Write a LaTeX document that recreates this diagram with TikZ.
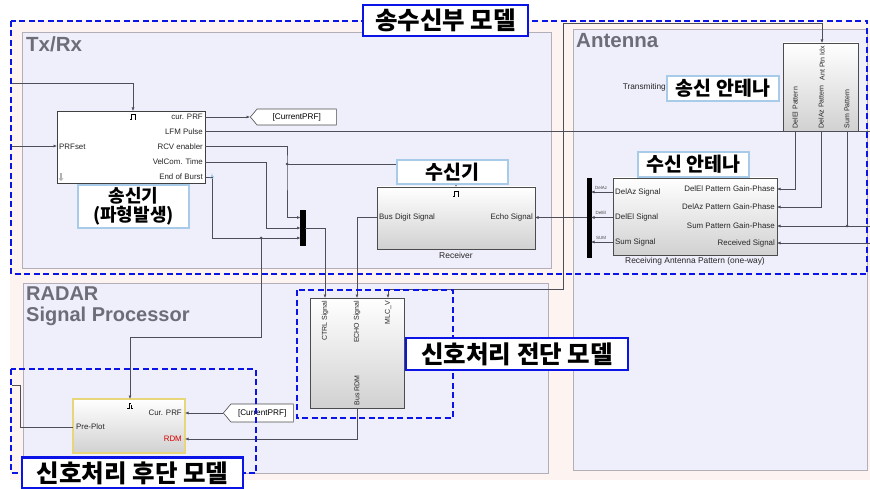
\documentclass[tikz,border=0pt]{standalone}
\usepackage{fontspec}
\setmainfont{Liberation Sans}
\newfontfamily\kr{Noto Sans CJK KR}
\usetikzlibrary{arrows.meta,shapes.geometric,shapes.symbols}
\definecolor{pinkbg}{HTML}{FDF4F1}
\definecolor{lav}{HTML}{EFEEFB}
\definecolor{pborder}{HTML}{B4AEB8}
\definecolor{wire}{HTML}{4E4E58}
\definecolor{dblue}{HTML}{0A14E6}
\definecolor{lblue}{HTML}{A9CBEA}
\definecolor{ttl}{HTML}{6D6D78}
\definecolor{ylw}{HTML}{E8D67A}
\begin{document}
\begin{tikzpicture}[x=1pt,y=-1pt,
  panel/.style={fill=lav,draw=pborder,line width=0.8pt},
  blkw/.style={draw=black!75,line width=0.8pt,fill=white,inner sep=0pt},
  blkg/.style={draw=black!70,line width=0.8pt,top color=white,bottom color=black!18,inner sep=0pt},
  wirel/.style={draw=wire,line width=0.6pt},
  sig/.style={wirel,-{Latex[length=3.5pt,width=3pt]}},
  port/.style={font=\fontsize{7.9}{8}\selectfont,inner sep=1pt,text=black!85},
  rport/.style={font=\fontsize{7}{7}\selectfont,inner sep=1pt,text=black!85,rotate=90},
  tiny/.style={font=\fontsize{4.5}{5}\selectfont,inner sep=0pt,text=black!70},
  ttlf/.style={font=\fontsize{20.5}{21}\selectfont\bfseries,text=ttl,inner sep=0pt},
  dbox/.style={draw=dblue,line width=2pt,dash pattern=on 6pt off 3.5pt},
  bigl/.style={draw=dblue,line width=2.2pt,fill=white,font=\kr\bfseries\fontsize{24.5}{26}\selectfont,inner sep=0pt},
  subl/.style={draw=lblue,line width=1.6pt,fill=white,font=\kr\bfseries\fontsize{19.5}{20}\selectfont,inner sep=0pt,align=center},
  jdot/.style={circle,fill=wire,inner sep=0pt,minimum size=3pt},
  bar/.style={fill=black,draw=black,inner sep=0pt},
  tag/.style={draw=black!70,fill=white,signal,signal to=west,signal pointer angle=100,font=\fontsize{8.2}{9}\selectfont,inner sep=1.5pt,line width=0.6pt}
]
\useasboundingbox (0,0) rectangle (870,489);
\fill[white] (0,0) rectangle (870,489);
\fill[pinkbg] (10,20) rectangle (870,480);
% panels
\draw[panel] (22,32) rectangle (551,268);
\draw[panel] (573,29) rectangle (867,470);
\draw[panel] (23,283) rectangle (548,473);
\node[ttlf,anchor=west] (tTx) at (26,44) {Tx/Rx};
\node[ttlf,anchor=west] (tAnt) at (576,41) {Antenna};
\node[ttlf,anchor=north west,align=left,font=\fontsize{20}{21}\selectfont\bfseries] (tR) at (26,287) {RADAR\\Signal Processor};

% blocks
\node[blkw, minimum width=148pt, minimum height=72pt] (tx) at (131,147) {};
\node[blkg, minimum width=158pt, minimum height=62pt] (rx) at (456,218) {};
\node[blkg, minimum width=164pt, minimum height=77pt] (rxa) at (695,216.5) {};
\node[blkg, minimum width=75pt, minimum height=88pt] (txa) at (820.5,87) {};
\node[blkg, minimum width=94pt, minimum height=110pt] (fb) at (357,353) {};
\node[blkg, draw=ylw, line width=1.3pt, minimum width=112pt, minimum height=54pt] (pb) at (129,426) {};
\node[bar, minimum width=4.5pt, minimum height=35pt] (m1) at (302.75,227.5) {};
\node[bar, minimum width=4pt, minimum height=79pt] (m2) at (589,217.5) {};
\node[tag, anchor=west, minimum width=86pt, minimum height=16pt] (t1) at (250,117) {[CurrentPRF]};
\node[tag, anchor=west, minimum width=70pt, minimum height=18pt] (t2) at (223,413) {[CurrentPRF]};

% port coordinates
\coordinate (inA) at (11,83);
\coordinate (inB) at (11,146);
\coordinate (txT) at (133,111);
\coordinate (txI) at (57,146);
\coordinate (txO1) at (205,117);
\coordinate (txO2) at (205,131.5);
\coordinate (txO3) at (205,146.5);
\coordinate (txO4) at (205,162);
\coordinate (txO5) at (205,177);
\coordinate (lfmEnd) at (870,131.5);
\coordinate (j1) at (287,164);
\coordinate (b4) at (266,228);
\coordinate (b5) at (212,238);
\coordinate (j2) at (261,238);
\coordinate (b6) at (130,337);
\coordinate (m1i1) at (300.5,217.5);
\coordinate (m1i2) at (300.5,228);
\coordinate (m1i3) at (300.5,238);
\coordinate (m1o) at (305,228);
\coordinate (rxT) at (456,187);
\coordinate (rxB) at (377,217.5);
\coordinate (rxE) at (535,217.5);
\coordinate (m2o) at (587,217.5);
\coordinate (m2i1) at (591,192);
\coordinate (m2i2) at (591,217.5);
\coordinate (m2i3) at (591,242);
\coordinate (rxaL1) at (613,192);
\coordinate (rxaL2) at (613,217.5);
\coordinate (rxaL3) at (613,242);
\coordinate (rxaR1) at (777,189);
\coordinate (rxaR2) at (777,207);
\coordinate (rxaR3) at (777,226);
\coordinate (rxaR4) at (777,243);
\coordinate (txaT) at (822,43);
\coordinate (txaB1) at (795,131);
\coordinate (txaB2) at (821,131);
\coordinate (txaB3) at (847,131);
\coordinate (j3) at (847,226);
\coordinate (sumEnd) at (870,226);
\coordinate (rsIn) at (870,243);
\coordinate (mlcSrc) at (822,23);
\coordinate (b7) at (563,289);
\coordinate (fbC) at (325,298);
\coordinate (fbE) at (357,298);
\coordinate (fbM) at (388,298);
\coordinate (fbR) at (357,408);
\coordinate (pbT) at (130,399);
\coordinate (pbC) at (185,413);
\coordinate (pbR) at (185,439);
\coordinate (pbP) at (73,427);
\coordinate (b8) at (20,385);
\coordinate (preEnd) at (12,385);

% wires
\draw[sig] (inA) -| (txT);
\draw[sig] (inB) -- (txI);
\draw[sig] (txO1) -- (t1.west);
\draw[wirel] (txO2) -- (lfmEnd);
\draw[sig] (txO3) -| (j1) |- (m1i1);
\draw[sig] (j1) -| (rxT);
\draw[sig] (txO4) -| (b4) -- (m1i2);
\draw[sig] (txO5) -| (b5) -- (m1i3);
\draw[sig] (j2) |- (b6) -- (pbT);
\draw[sig] (m1o) -| (fbC);
\draw[sig] (rxB) -| (fbE);
\draw[sig] (m2o) -- (rxE);
\draw[sig] (rxaL1) -- (m2i1);
\draw[sig] (rxaL2) -- (m2i2);
\draw[sig] (rxaL3) -- (m2i3);
\draw[sig] (txaB1) |- (rxaR1);
\draw[sig] (txaB2) |- (rxaR2);
\draw[sig] (txaB3) |- (rxaR3);
\draw[wirel] (j3) -- (sumEnd);
\draw[sig] (rsIn) -- (rxaR4);
\draw[sig] (mlcSrc) -- (txaT);
\draw[sig] (mlcSrc) -| (b7) -| (fbM);
\draw[sig] (fbR) |- (pbR);
\draw[sig] (t2.west) -- (pbC);
\draw[wirel] (pbP) -| (b8) -- (preEnd);
\node[jdot] at (j1) {};
\node[jdot] at (j2) {};
\node[jdot] at (j3) {};

% port labels: transmitter
\node[port,anchor=west] at (58,146.5) {PRFset};
\node[port,anchor=east] at (204,117) {cur. PRF};
\node[port,anchor=east] at (204,131.5) {LFM Pulse};
\node[port,anchor=east] at (204,146.5) {RCV enabler};
\node[port,anchor=east] at (204,162) {VelCom. Time};
\node[port,anchor=east] at (204,177) {End of Burst};
\draw[line width=0.6pt] (130,119) -- (131,119) -- (131,114) -- (135,114) -- (135,119) -- (136,119);
\draw[black!30,line width=1.3pt,-{Triangle[length=2.5pt,width=4.5pt]}] (61,173.5) -- (61,181);
\foreach \r in {1.5,3,4.5} \draw[lblue,line width=0.5pt] (212,174) ++(60:\r) arc (60:120:\r);
\fill[lblue] (212,174) circle (0.6);
% receiver
\node[port,anchor=west] at (378,217.5) {Bus Digit Signal};
\node[port,anchor=east] at (534,217.5) {Echo Signal};
\node[port,font=\fontsize{8.5}{9}\selectfont] at (456,255.5) {Receiver};
\draw[line width=0.6pt] (453,196) -- (454,196) -- (454,191) -- (458,191) -- (458,196) -- (459,196);
% rx antenna
\node[port,anchor=west] at (614,192) {DelAz Signal};
\node[port,anchor=west] at (614,217.5) {DelEl Signal};
\node[port,anchor=west] at (614,242) {Sum Signal};
\node[port,anchor=east] at (776,189) {DelEl Pattern Gain-Phase};
\node[port,anchor=east] at (776,207) {DelAz Pattern Gain-Phase};
\node[port,anchor=east] at (776,226) {Sum Pattern Gain-Phase};
\node[port,anchor=east] at (776,243) {Received Signal};
\node[port,font=\fontsize{8.4}{9}\selectfont] at (695,261) {Receiving Antenna Pattern (one-way)};
\node[tiny] at (601,188) {DelAz};
\node[tiny] at (601,213) {DelEl};
\node[tiny] at (601,238) {SUM};
% tx antenna
\node[rport,anchor=east] at (822,45) {Ant Ptn Idx};
\node[rport,anchor=west] at (795,129.5) {DelEl Pattern};
\node[rport,anchor=west] at (821,129.5) {DelAz Pattern};
\node[rport,anchor=west] at (847,129.5) {Sum Pattern};
\node[port,anchor=east,font=\fontsize{8.3}{9}\selectfont] at (667,87) {Transmiting};
% front block
\node[rport,anchor=east] at (325,300) {CTRL Signal};
\node[rport,anchor=east] at (357,300) {ECHO Signal};
\node[rport,anchor=east] at (388,300) {MLC\_V};
\node[rport,anchor=west] at (357,406.5) {Bus RDM};
% post block
\node[port,anchor=east] at (183,413) {Cur. PRF};
\node[port,anchor=east,text=red!85!black] at (183,439) {RDM};
\node[port,anchor=west] at (75,427) {Pre-Plot};
\draw[line width=0.5pt] (127,408) -- (129,408) -- (129,403) -- (131,403) (131,405) -- (131,408) -- (133,408);

% dashed model boxes
\draw[dbox] (11,21) rectangle (867,274);
\draw[dbox] (297,290) rectangle (453,418);
\draw[dbox] (11,369) rectangle (256,473);

% sub labels
\node[subl, font=\kr\bfseries\fontsize{18}{19}\selectfont, minimum width=111pt, minimum height=43pt] (s1) at (133.5,206.5) {송신기\\(파형발생)};
\node[subl, minimum width=111pt, minimum height=24pt] (s2) at (452.5,172) {수신기};
\node[subl, minimum width=112pt, minimum height=25pt] (s3) at (723,88.5) {송신 안테나};
\node[subl, minimum width=111pt, minimum height=25pt] (s4) at (693.5,164.5) {수신 안테나};

% model labels
\node[bigl, minimum width=165pt, minimum height=31pt] (L1) at (445.5,20.5) {송수신부 모델};
\node[bigl, minimum width=222pt, minimum height=32pt] (L2) at (517,354) {신호처리 전단 모델};
\node[bigl, minimum width=221pt, minimum height=31pt] (L3) at (132.5,473) {신호처리 후단 모델};
\end{tikzpicture}
\end{document}
